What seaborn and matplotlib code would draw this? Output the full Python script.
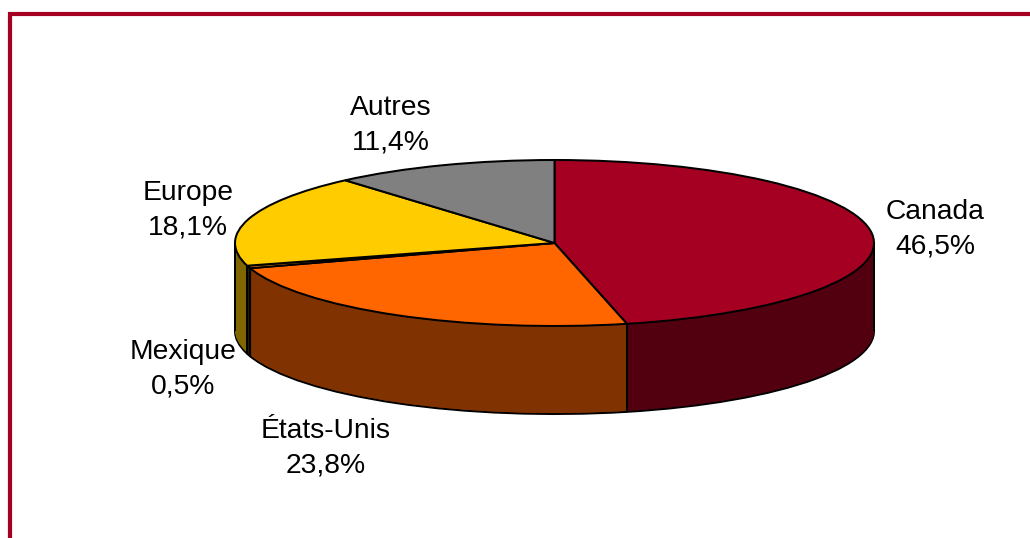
import numpy as np
import matplotlib
matplotlib.use("Agg")
import matplotlib.pyplot as plt
import seaborn as sns

categories = ["Canada", "États-Unis", "Mexique", "Europe", "Autres"]
values = [46.5, 23.8, 0.5, 18.1, 11.4]
top_colors = ["#A50021", "#FF6600", "#FF9900", "#FFCC00", "#808080"]
side_colors = ["#520010", "#803300", "#1A1000", "#806600", "#404040"]
label_px = [(935, 229), (326, 448), (183, 369), (188, 210), (391, 125)]

W, H = 1030, 538
CX, CY, RX, RY, DEPTH = 554.5, 243, 319.5, 83, 88
FRAME = "#A50021"

sns.set_theme(style="white")
plt.rcParams["font.family"] = ["Liberation Sans", "DejaVu Sans"]
sns.set_palette(sns.color_palette(top_colors))

fig = plt.figure(figsize=(W / 100, H / 100), dpi=100, facecolor="white")
ax = fig.add_axes([0, 0, 1, 1])
ax.axis("off")

to_x = lambda px: (px - CX) / RX
to_y = lambda py: (CY - py) / RY
depth = DEPTH / RY
LW = 1.45

# side wall: stack of shifted pies, bottom first
ax.pie(values, colors=side_colors, startangle=90, counterclock=False, radius=1,
       center=(0, -depth), wedgeprops=dict(edgecolor="black", linewidth=LW))
for k in range(DEPTH - 1, 0, -1):
    ax.pie(values, colors=side_colors, startangle=90, counterclock=False, radius=1,
           center=(0, -depth * k / DEPTH),
           wedgeprops=dict(edgecolor="none", linewidth=0))

# vertical edges of the wall at slice boundaries and silhouette
fracs = np.cumsum(values) / np.sum(values)
theta = 2 * np.pi * fracs
for t in theta:
    if np.cos(t) < 0:
        ax.plot([np.sin(t)] * 2, [np.cos(t), np.cos(t) - depth], color="black", lw=LW,
                solid_capstyle="butt", zorder=5)
for sx in (-1, 1):
    ax.plot([sx, sx], [0, -depth], color="black", lw=LW, solid_capstyle="butt", zorder=5)

# top face
ax.pie(values, colors=top_colors, startangle=90, counterclock=False, radius=1,
       center=(0, 0), wedgeprops=dict(edgecolor="black", linewidth=LW, zorder=10))

ax.set_aspect("auto")
ax.set_xlim(to_x(0), to_x(W))
ax.set_ylim(to_y(H), to_y(0))

# labels
for name, v, (px, py) in zip(categories, values, label_px):
    ax.text(to_x(px), to_y(py), f"{name}\n{v:.1f}%".replace(".", ","),
            ha="center", va="center", fontsize=20.3, color="black",
            linespacing=1.45, zorder=20)

# frame: left and top rules, running off the figure
ax.plot([to_x(10), to_x(10), to_x(W)], [to_y(H), to_y(14), to_y(14)],
        color=FRAME, lw=3.0, solid_joinstyle="miter", solid_capstyle="butt", zorder=20,
        clip_on=True)

fig.savefig("out.png", dpi=100, facecolor="white")
